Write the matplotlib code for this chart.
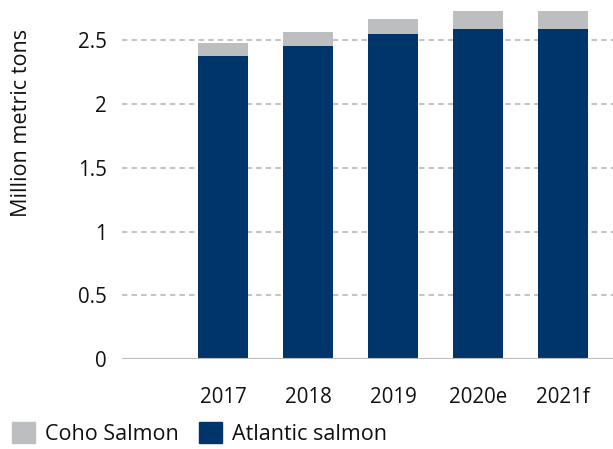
import matplotlib
matplotlib.use("Agg")
import matplotlib.pyplot as plt
from matplotlib.patches import Rectangle

years = ["2017", "2018", "2019", "2020e", "2021f"]
atlantic = [2.375, 2.453, 2.547, 2.586, 2.586]
coho = [0.101, 0.110, 0.118, 0.141, 0.141]
yticks = [0, 0.5, 1, 1.5, 2, 2.5]
ytick_labels = ["0", "0.5", "1", "1.5", "2", "2.5"]

NAVY = "#00356B"
GRAY = "#BDBEC0"
plt.rcParams['font.family'] = ['Open Sans', 'DejaVu Sans']

W, H = 613, 449
fig = plt.figure(figsize=(W / 100, H / 100), dpi=100)
left, right, bottom, top = 122, 613, 359, 2
ax = fig.add_axes([left / W, (H - bottom) / H, (right - left) / W, (bottom - top) / H])

x = list(range(len(years)))
ax.bar(x, atlantic, width=50 / 85, color=NAVY, zorder=3)
ax.bar(x, coho, bottom=atlantic, width=50 / 85, color=GRAY, zorder=3)

ax.set_xlim(-1.19, 4.59)
ax.set_ylim(0, 2.8)
ax.set_yticks(yticks)
ax.set_yticklabels(ytick_labels)
ax.set_xticks(x)
ax.set_xticklabels(years)
ax.tick_params(axis='both', length=0, labelsize=14.8, colors='#111111')
ax.tick_params(axis='y', pad=11)
ax.tick_params(axis='x', pad=20)

for t in yticks[1:]:
    ax.axhline(t, color='#C4C4C4', lw=1.5, ls=(0, (2.6, 2.0)), zorder=1)
ax.axhline(0, color='#BDBDBD', lw=1.5, zorder=4)

for s in ax.spines.values():
    s.set_visible(False)

fig.text(22 / W, 1 - 123 / H, "Million metric tons", rotation=90, ha='center', va='center',
         fontsize=15.6, color='#111111')

# legend
items = [(12, GRAY, "Coho Salmon"), (199, NAVY, "Atlantic salmon")]
for x0, c, lab in items:
    fig.patches.append(Rectangle((x0 / W, 1 - 443 / H), 23 / W, 21 / H, transform=fig.transFigure,
                                 color=c, figure=fig))
    fig.text((x0 + 33) / W, 1 - 434 / H, lab, ha='left', va='center', fontsize=15.5, color='#111111')

fig.savefig("out.png", dpi=100)
